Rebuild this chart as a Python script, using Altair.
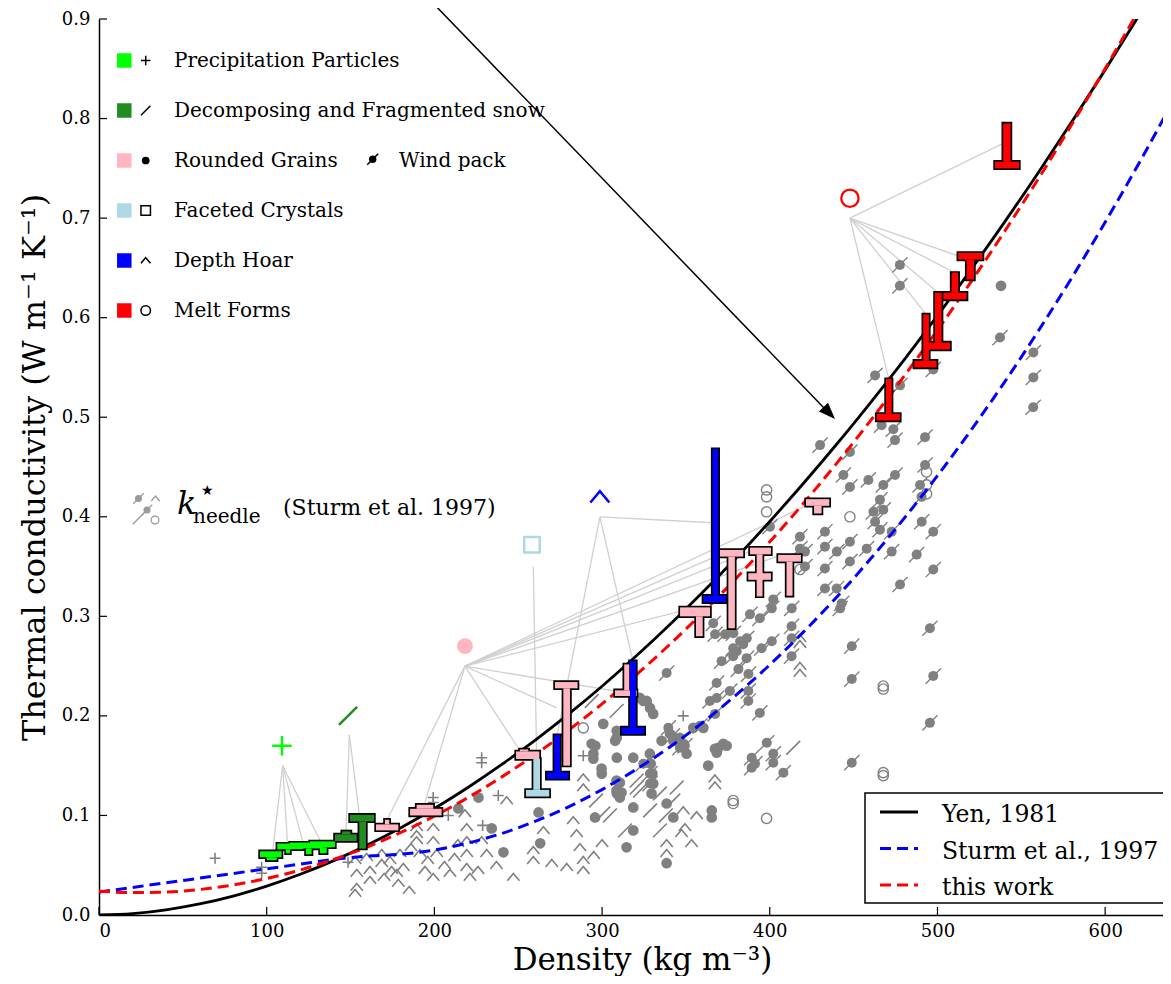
import altair as alt
import pandas as pd

# ---------------- curves (values every 20 kg m-3) ----------------
rho_grid = list(range(0, 660, 20))
yen_k = [0.0, 0.0014, 0.0052, 0.0111, 0.0190, 0.0290, 0.0409, 0.0546, 0.0703, 0.0877, 0.1070,
         0.1281, 0.1510, 0.1755, 0.2018, 0.2298, 0.2596, 0.2910, 0.3241, 0.3588, 0.3953, 0.4334,
         0.4731, 0.5145, 0.5574, 0.6020, 0.6483, 0.6960, 0.7454, 0.7964, 0.8489, 0.9031, 0.9587]
sturm_k = [0.0230, 0.0277, 0.0324, 0.0370, 0.0417, 0.0464, 0.0511, 0.0558, 0.0592, 0.0610, 0.0653,
           0.0723, 0.0818, 0.0940, 0.1087, 0.1260, 0.1459, 0.1683, 0.1934, 0.2211, 0.2513, 0.2841,
           0.3195, 0.3575, 0.3981, 0.4413, 0.4870, 0.5353, 0.5863, 0.6398, 0.6959, 0.7546, 0.8158]
this_work_k = [0.0240, 0.0225, 0.0231, 0.0256, 0.0302, 0.0367, 0.0452, 0.0558, 0.0683, 0.0829, 0.0994,
               0.1179, 0.1385, 0.1610, 0.1856, 0.2121, 0.2406, 0.2712, 0.3037, 0.3383, 0.3748, 0.4133,
               0.4539, 0.4964, 0.5410, 0.5875, 0.6360, 0.6866, 0.7391, 0.7937, 0.8502, 0.9087, 0.9693]
curve_labels = ["Yen, 1981", "Sturm et al., 1997", "this work"]

# ---------------- class glyphs: (rho_lo, rho_hi, k_lo, k_hi) ----------------
precip_rects = [(96.0, 108.9, 0.058, 0.064), (100.0, 106.0, 0.055, 0.058),
                (106.3, 121.8, 0.066, 0.0717), (111.5, 113.9, 0.062, 0.066),
                (113.9, 133.8, 0.0667, 0.0727), (123.4, 126.8, 0.061, 0.0667),
                (125.8, 140.7, 0.068, 0.074), (131.8, 135.8, 0.062, 0.068)]
decomp_rects = [(140.7, 153.7, 0.0743, 0.081), (145.0, 150.0, 0.081, 0.084),
                (149.7, 164.0, 0.094, 0.1007), (155.2, 159.2, 0.0667, 0.094)]
rounded_rects = [(165.2, 178.5, 0.085, 0.091), (170.5, 173.1, 0.091, 0.0957),
                 (185.5, 204.3, 0.100, 0.1067), (189.4, 199.3, 0.1067, 0.1107),
                 (248.7, 262.6, 0.1567, 0.1643), (251.0, 256.0, 0.1643, 0.1663),
                 (271.9, 285.4, 0.2277, 0.234), (276.9, 280.9, 0.150, 0.2277),
                 (307.7, 320.6, 0.220, 0.2257), (313.2, 316.2, 0.2257, 0.2517),
                 (346.5, 364.4, 0.300, 0.309), (356.0, 360.0, 0.280, 0.300),
                 (370.3, 384.2, 0.360, 0.3667), (375.3, 379.2, 0.288, 0.360),
                 (388.2, 400.7, 0.3623, 0.369), (387.2, 400.7, 0.3367, 0.3433), (392.2, 395.7, 0.320, 0.3623),
                 (405.0, 418.6, 0.355, 0.3617), (410.0, 413.6, 0.3207, 0.355),
                 (421.6, 435.5, 0.411, 0.4177), (426.4, 430.9, 0.4033, 0.411)]
faceted_rects = [(259.0, 263.0, 0.1257, 0.1567), (254.6, 268.5, 0.119, 0.1257)]
depth_rects = [(271.5, 274.9, 0.1433, 0.1807), (267.0, 279.9, 0.1367, 0.1433),
               (316.6, 320.2, 0.1883, 0.255), (311.7, 325.2, 0.1817, 0.1883),
               (365.9, 369.3, 0.3207, 0.468), (360.4, 373.9, 0.314, 0.3207)]
melt_rects = [(469.3, 472.7, 0.5033, 0.5383), (463.7, 477.6, 0.4967, 0.5033),
              (491.5, 494.9, 0.5567, 0.6033), (486.2, 499.5, 0.550, 0.5567),
              (498.5, 502.5, 0.575, 0.625), (494.5, 507.5, 0.568, 0.575),
              (508.4, 512.4, 0.625, 0.645), (503.5, 517.4, 0.6183, 0.625),
              (512.4, 526.9, 0.6583, 0.665), (517.4, 521.8, 0.6383, 0.6583),
              (539.2, 543.6, 0.7567, 0.795), (534.3, 548.6, 0.750, 0.7567)]

# class markers, hubs and the glyphs they point to
class_marker = {"precip": (109.1, 0.170), "decomp": (148.5, 0.200), "rounded": (218.2, 0.270),
                "faceted": (258.2, 0.372), "depth": (298.7, 0.420), "melt": (447.8, 0.720)}
class_hub = {"precip": (109.5, 0.150), "decomp": (149.3, 0.181), "rounded": (218.2, 0.250),
             "faceted": (259.0, 0.350), "depth": (298.7, 0.400), "melt": (447.8, 0.700)}
class_targets = {
    "precip": [(103.6, 0.0643), (112.4, 0.0717), (121.8, 0.0717), (131.8, 0.075)],
    "decomp": [(147.3, 0.0833), (155.2, 0.1017)],
    "rounded": [(171.8, 0.0957), (194.0, 0.1107), (251.0, 0.165), (273.0, 0.208), (307.7, 0.225),
                (346.5, 0.305), (370.3, 0.362), (388.2, 0.365), (404.1, 0.360), (424.0, 0.413)],
    "faceted": [(261.0, 0.1567)],
    "depth": [(273.2, 0.1807), (318.4, 0.255), (365.9, 0.394)],
    "melt": [(471.0, 0.5383), (493.2, 0.6033), (500.5, 0.625), (510.4, 0.645), (512.4, 0.662), (539.2, 0.775)],
}

# ---------------- k_needle points (Sturm et al. 1997) ----------------
plus_pts = [(69.2, 0.057), (97.0, 0.048), (97.0, 0.042), (148.5, 0.053), (199.3, 0.118), (199.3, 0.113),
            (208.3, 0.100), (228.2, 0.158), (228.2, 0.153), (228.8, 0.090), (238.1, 0.120), (288.8, 0.160),
            (348.4, 0.200)]
slash_pts = [(293.8, 0.215), (308.7, 0.205), (300.7, 0.102), (296.4, 0.115), (304.7, 0.100), (313.7, 0.085),
             (320.6, 0.135), (320.6, 0.128), (322.6, 0.125), (328.6, 0.105), (334.5, 0.122), (334.5, 0.085),
             (338.0, 0.100), (342.5, 0.115), (344.5, 0.128), (414.0, 0.168)]
caret_pts = [(152.7, 0.055), (153.7, 0.042), (152.7, 0.022), (153.7, 0.028), (159.6, 0.058), (161.6, 0.045),
             (161.6, 0.035), (168.6, 0.062), (168.6, 0.052), (173.5, 0.055), (174.5, 0.045), (177.5, 0.042),
             (179.5, 0.062), (181.5, 0.048), (178.5, 0.032), (189.4, 0.088), (189.4, 0.081), (189.4, 0.075),
             (191.4, 0.062), (194.4, 0.045), (199.3, 0.088), (199.3, 0.075), (201.4, 0.062), (199.3, 0.038),
             (209.3, 0.042), (218.2, 0.102), (219.3, 0.088), (219.3, 0.075), (219.3, 0.062), (219.3, 0.048),
             (221.2, 0.038), (228.2, 0.075), (231.2, 0.062), (243.1, 0.115), (247.1, 0.038), (259.0, 0.065),
             (259.0, 0.055), (278.9, 0.048), (282.8, 0.095), (284.8, 0.082), (286.8, 0.068), (288.8, 0.055),
             (288.8, 0.045), (288.8, 0.128), (288.8, 0.138), (338.5, 0.072), (338.5, 0.062), (347.4, 0.082),
             (348.4, 0.105), (349.4, 0.088), (353.4, 0.072), (356.4, 0.100), (367.3, 0.130), (367.3, 0.137),
             (418.0, 0.243), (418.0, 0.250), (418.0, 0.278), (418.0, 0.272), (186.0, 0.068), (196.0, 0.055),
             (206.0, 0.050), (212.0, 0.058), (214.0, 0.072), (170.0, 0.038), (185.0, 0.025), (226.0, 0.045),
             (237.0, 0.050), (270.0, 0.052), (295.0, 0.060), (300.0, 0.072), (265.0, 0.085)]
ring_pts = [(288.8, 0.188), (378.2, 0.112), (378.2, 0.115), (398.1, 0.097), (398.1, 0.405), (398.1, 0.420),
            (398.1, 0.427), (418.0, 0.347), (447.8, 0.400), (467.7, 0.230), (467.7, 0.227), (467.7, 0.143),
            (467.7, 0.140), (493.5, 0.423), (493.5, 0.432), (493.5, 0.445)]
dot_pts = [(214.3, 0.107), (226.3, 0.118), (234.2, 0.087), (241.2, 0.063), (262.1, 0.103), (263.1, 0.072),
           (293.8, 0.172), (294.8, 0.162), (294.8, 0.157), (295.8, 0.098), (296.0, 0.170), (299.7, 0.147),
           (299.8, 0.142), (300.7, 0.192), (307.8, 0.175), (308.7, 0.185), (308.7, 0.178), (308.8, 0.158),
           (308.8, 0.122), (308.6, 0.135), (308.6, 0.125), (310.6, 0.133), (311.6, 0.123), (310.6, 0.118),
           (314.6, 0.068), (318.6, 0.158), (318.6, 0.108), (318.6, 0.085), (322.6, 0.218), (324.6, 0.215),
           (326.6, 0.215), (328.6, 0.208), (330.5, 0.202), (328.5, 0.162), (329.0, 0.152), (330.0, 0.142),
           (330.5, 0.132), (329.5, 0.122), (335.5, 0.175), (338.5, 0.112), (338.5, 0.052), (340.5, 0.182),
           (342.5, 0.175), (342.5, 0.098), (346.4, 0.178), (348.4, 0.172), (350.4, 0.162), (354.4, 0.188),
           (360.4, 0.188), (363.3, 0.150), (365.4, 0.105), (365.4, 0.098), (367.3, 0.167), (368.4, 0.163),
           (369.3, 0.168), (372.3, 0.172), (374.3, 0.170), (537.9, 0.632)]
wind_pts = [(324.6, 0.152), (328.6, 0.142), (328.6, 0.132), (338.5, 0.243), (339.5, 0.188), (342.0, 0.180),
            (346.4, 0.168), (349.4, 0.170), (358.4, 0.190), (364.3, 0.215), (366.3, 0.293), (367.4, 0.282),
            (367.4, 0.202), (368.3, 0.233), (368.4, 0.218), (371.3, 0.255), (373.3, 0.282), (376.2, 0.225),
            (378.2, 0.268), (378.2, 0.260), (378.3, 0.283), (380.3, 0.265), (381.3, 0.247), (382.3, 0.275),
            (384.2, 0.272), (386.2, 0.258), (386.3, 0.278), (387.2, 0.225), (387.2, 0.215), (387.3, 0.242),
            (388.2, 0.302), (389.2, 0.158), (389.2, 0.148), (391.2, 0.152), (394.1, 0.298), (394.1, 0.203),
            (395.1, 0.268), (398.2, 0.173), (400.1, 0.390), (401.2, 0.308), (401.2, 0.275), (402.1, 0.317),
            (402.1, 0.162), (402.1, 0.153), (408.1, 0.143), (413.0, 0.290), (413.0, 0.260), (413.1, 0.308),
            (413.1, 0.278), (418.0, 0.380), (418.0, 0.368), (421.0, 0.365), (421.0, 0.350), (430.0, 0.472),
            (432.9, 0.385), (432.9, 0.370), (432.9, 0.348), (432.9, 0.328), (439.9, 0.328), (440.0, 0.365),
            (442.0, 0.308), (442.9, 0.313), (443.9, 0.442), (447.8, 0.465), (447.8, 0.430), (447.8, 0.375),
            (447.8, 0.355), (448.9, 0.270), (448.9, 0.237), (448.9, 0.153), (457.8, 0.368), (458.8, 0.437),
            (461.8, 0.405), (462.8, 0.542), (462.8, 0.395), (465.7, 0.417), (465.7, 0.387), (466.7, 0.492),
            (467.7, 0.432), (467.7, 0.407), (472.7, 0.385), (472.7, 0.365), (473.7, 0.488), (474.7, 0.477),
            (474.7, 0.442), (477.6, 0.653), (477.6, 0.632), (477.7, 0.532), (477.7, 0.332), (487.6, 0.362),
            (489.6, 0.432), (490.5, 0.420), (490.6, 0.395), (492.6, 0.480), (492.6, 0.452), (495.5, 0.288),
            (495.5, 0.193), (497.5, 0.548), (497.5, 0.385), (497.5, 0.347), (497.5, 0.240), (537.3, 0.580),
            (557.1, 0.510), (557.2, 0.565), (557.2, 0.540)]

class_labels = ["Precipitation Particles", "Decomposing and Fragmented snow", "Rounded Grains",
                "Faceted Crystals", "Depth Hoar", "Melt Forms"]
x_ticks = [0, 100, 200, 300, 400, 500, 600]
y_ticks = [0.0, 0.1, 0.2, 0.3, 0.4, 0.5, 0.6, 0.7, 0.8, 0.9]

# ---------------- styles ----------------
CLASSES = ["precip", "decomp", "rounded", "faceted", "depth", "melt"]
COLORS = {"precip": "#00ff00", "decomp": "#228b22", "rounded": "#ffb6c1",
          "faceted": "#add8e6", "depth": "#0000ff", "melt": "#ff0000"}
GREY = "#808080"
PLUS = "M-1,0L1,0M0,-1L0,1"
SLASH = "M-1,1L1,-1"
CARET = "M-1,0.6L0,-0.6L1,0.6"
ARROW = "M0,0L-0.38,-1L0.38,-1Z"
FONT = "DejaVu Serif"
TOP = 11         # top padding in px
H = 896          # plot height in px
DY = -4          # shift of pixel-placed annotations so they sit where the reference has them

XS = alt.Scale(domain=[0, 634.5], nice=False, zero=False)
YS = alt.Scale(domain=[0, 0.9], nice=False, zero=False)
XAX = alt.Axis(values=x_ticks, format="d", ticks=False, grid=False, labelPadding=7,
               title="Density (kg m⁻³)", titleX=543, titleY=54, titleBaseline="alphabetic")
YAX = alt.Axis(values=y_ticks, format=".1f", ticks=False, grid=False, labelPadding=9,
               title="Thermal conductivity (W m⁻¹ K⁻¹)", titleX=-55, titleBaseline="alphabetic",
               titleFontSize=32)


def X(f):
    return alt.X(f, type="quantitative", scale=XS, axis=XAX)


def Y(f):
    return alt.Y(f, type="quantitative", scale=YS, axis=YAX)


def pdf(pts):
    return pd.DataFrame(pts, columns=["rho", "k"])


def PX(f):
    return alt.X(f, type="quantitative", scale=None)


def PY(f):
    return alt.Y(f, type="quantitative", scale=None)


layers = []

# hub lines
hub_rows = []
for c in CLASSES:
    hx, hy = class_hub[c]
    for tx, ty in class_targets[c]:
        hub_rows.append({"hx": hx, "hy": hy, "tx": tx, "ty": ty})
layers.append(alt.Chart(pd.DataFrame(hub_rows)).mark_rule(color="#d0d0d0", strokeWidth=1.3).encode(
    x=X("hx"), y=Y("hy"), x2=alt.X2("tx"), y2=alt.Y2("ty")))

# grey k_needle points
layers.append(alt.Chart(pdf(caret_pts)).mark_point(shape=CARET, filled=False, color=GREY,
                                                   size=150, strokeWidth=1.6, opacity=1).encode(x=X("rho"), y=Y("k")))
layers.append(alt.Chart(pdf(plus_pts)).mark_point(shape=PLUS, filled=False, color=GREY,
                                                  size=120, strokeWidth=1.6, opacity=1).encode(x=X("rho"), y=Y("k")))
layers.append(alt.Chart(pdf(slash_pts)).mark_point(shape=SLASH, filled=False, color=GREY,
                                                   size=190, strokeWidth=1.6, opacity=1).encode(x=X("rho"), y=Y("k")))
layers.append(alt.Chart(pdf(ring_pts)).mark_point(shape="circle", filled=False, color=GREY,
                                                  size=105, strokeWidth=1.4, opacity=1).encode(x=X("rho"), y=Y("k")))
layers.append(alt.Chart(pdf(dot_pts)).mark_circle(color=GREY, size=115, opacity=1).encode(x=X("rho"), y=Y("k")))
layers.append(alt.Chart(pdf(wind_pts)).mark_point(shape=SLASH, filled=False, color=GREY,
                                                  size=230, strokeWidth=1.4, opacity=1).encode(x=X("rho"), y=Y("k")))
layers.append(alt.Chart(pdf(wind_pts)).mark_circle(color=GREY, size=100, opacity=1).encode(x=X("rho"), y=Y("k")))

# curves
cdf = pd.DataFrame({"rho": rho_grid, "yen": yen_k, "sturm": sturm_k, "tw": this_work_k})
layers.append(alt.Chart(cdf).mark_line(color="black", strokeWidth=2.8, clip=True, interpolate="monotone").encode(
    x=X("rho"), y=Y("yen")))
layers.append(alt.Chart(cdf).mark_line(color="#0000ff", strokeWidth=3, strokeDash=[11, 6], clip=True,
                                       interpolate="monotone").encode(x=X("rho"), y=Y("sturm")))
layers.append(alt.Chart(cdf).mark_line(color="#ff0000", strokeWidth=3, strokeDash=[11, 6], clip=True,
                                       interpolate="monotone").encode(x=X("rho"), y=Y("tw")))

# class glyphs: outline pass then fill pass
rect_rows = []
for c, rects in zip(CLASSES, [precip_rects, decomp_rects, rounded_rects, faceted_rects, depth_rects, melt_rects]):
    for lo, hi, klo, khi in rects:
        rect_rows.append({"lo": lo, "hi": hi, "klo": klo, "khi": khi, "color": COLORS[c]})
rdf = pd.DataFrame(rect_rows)
layers.append(alt.Chart(rdf).mark_rect(stroke="black", strokeWidth=3.4, opacity=1).encode(
    x=X("lo"), x2=alt.X2("hi"), y=Y("klo"), y2=alt.Y2("khi"), fill=alt.Fill("color:N", scale=None)))
layers.append(alt.Chart(rdf).mark_rect(strokeWidth=0, opacity=1).encode(
    x=X("lo"), x2=alt.X2("hi"), y=Y("klo"), y2=alt.Y2("khi"), fill=alt.Fill("color:N", scale=None)))


# class markers
def one(c):
    return pd.DataFrame([{"rho": class_marker[c][0], "k": class_marker[c][1]}])


layers.append(alt.Chart(one("precip")).mark_point(shape=PLUS, filled=False, color=COLORS["precip"], size=380,
                                                  strokeWidth=2.5, opacity=1).encode(x=X("rho"), y=Y("k")))
layers.append(alt.Chart(one("decomp")).mark_point(shape=SLASH, filled=False, color=COLORS["decomp"], size=330,
                                                  strokeWidth=2.5, opacity=1).encode(x=X("rho"), y=Y("k")))
layers.append(alt.Chart(one("rounded")).mark_circle(color=COLORS["rounded"], size=250, opacity=1).encode(
    x=X("rho"), y=Y("k")))
layers.append(alt.Chart(one("faceted")).mark_point(shape="square", filled=False, color=COLORS["faceted"], size=240,
                                                   strokeWidth=2.5, opacity=1).encode(x=X("rho"), y=Y("k")))
layers.append(alt.Chart(one("depth")).mark_point(shape=CARET, filled=False, color=COLORS["depth"], size=360,
                                                 strokeWidth=2.5, opacity=1).encode(x=X("rho"), y=Y("k")))
layers.append(alt.Chart(one("melt")).mark_point(shape="circle", filled=False, color=COLORS["melt"], size=300,
                                                strokeWidth=2.3, opacity=1).encode(x=X("rho"), y=Y("k")))

# inward ticks
layers.append(alt.Chart(pd.DataFrame({"v": x_ticks})).mark_rule(color="black", strokeWidth=1.2).encode(
    x=X("v"), y=alt.value(H), y2=alt.value(H - 8)))
layers.append(alt.Chart(pd.DataFrame({"v": y_ticks})).mark_rule(color="black", strokeWidth=1.2).encode(
    y=Y("v"), x=alt.value(0), x2=alt.value(8)))

# top-left class legend (pixel layout)
leg = pd.DataFrame({"label": class_labels, "color": [COLORS[c] for c in CLASSES],
                    "shape": [PLUS, SLASH, "circle", "square", CARET, "circle"],
                    "filled": [False, False, True, False, False, False]})
leg["py"] = [45.5 + DY + 50 * i for i in range(len(leg))]
leg["ty"] = [52.0 + DY + 50 * i for i in range(len(leg))]
layers.append(alt.Chart(leg).mark_square(size=210, opacity=1).encode(
    x=alt.value(25.3), y=PY("py"), color=alt.Color("color:N", scale=None)))
layers.append(alt.Chart(leg[~leg["filled"]]).mark_point(filled=False, color="black", size=90, strokeWidth=1.5,
                                                        opacity=1).encode(
    x=alt.value(46.7), y=PY("py"), shape=alt.Shape("shape:N", scale=None)))
layers.append(alt.Chart(leg[leg["filled"]]).mark_circle(color="black", size=60, opacity=1).encode(
    x=alt.value(46.7), y=PY("py")))
layers.append(alt.Chart(leg).mark_text(font=FONT, fontSize=20, align="left", baseline="alphabetic",
                                       color="black").encode(x=alt.value(75), y=PY("ty"), text="label:N"))
wp = pd.DataFrame({"label": ["Wind pack"], "py": [144.3 + DY], "ty": [152.0 + DY]})
layers.append(alt.Chart(wp).mark_point(shape=SLASH, filled=False, color="black", size=120, strokeWidth=1.5,
                                       opacity=1).encode(x=alt.value(273.7), y=PY("py")))
layers.append(alt.Chart(wp).mark_circle(color="black", size=55, opacity=1).encode(x=alt.value(273.7), y=PY("py")))
layers.append(alt.Chart(wp).mark_text(font=FONT, fontSize=20, align="left", baseline="alphabetic",
                                      color="black").encode(x=alt.value(300), y=PY("ty"), text="label:N"))

# k_needle annotation
icon = pd.DataFrame({"px": [39.5, 48.0], "py": [483.5 + DY, 495.0 + DY]})
layers.append(alt.Chart(icon).mark_point(shape=SLASH, filled=False, color="#9a9a9a", size=110, strokeWidth=1.3,
                                         opacity=1).encode(x=PX("px"), y=PY("py")))
layers.append(alt.Chart(icon).mark_circle(color="#9a9a9a", size=50, opacity=1).encode(x=PX("px"), y=PY("py")))
layers.append(alt.Chart(pd.DataFrame({"px": [56.5], "py": [483.5 + DY]})).mark_point(
    shape=CARET, filled=False, color="#9a9a9a", size=70, strokeWidth=1.3, opacity=1).encode(x=PX("px"), y=PY("py")))
layers.append(alt.Chart(pd.DataFrame({"px": [39.5], "py": [503.5 + DY]})).mark_point(
    shape=SLASH, filled=False, color="#9a9a9a", size=130, strokeWidth=1.4, opacity=1).encode(x=PX("px"), y=PY("py")))
layers.append(alt.Chart(pd.DataFrame({"px": [56.0], "py": [505.0 + DY]})).mark_point(
    shape="circle", filled=False, color="#9a9a9a", size=60, strokeWidth=1.3, opacity=1).encode(x=PX("px"), y=PY("py")))
kn = pd.DataFrame({"t": ["k", "★", "needle", "(Sturm et al. 1997)"],
                   "px": [78, 102, 94, 184], "py": [499 + DY, 480 + DY, 508 + DY, 500 + DY]})
layers.append(alt.Chart(kn.iloc[[0]]).mark_text(font=FONT, fontSize=32, fontStyle="italic", align="left",
                                                baseline="alphabetic", color="black").encode(
    x=PX("px"), y=PY("py"), text="t:N"))
layers.append(alt.Chart(kn.iloc[[1]]).mark_text(font="DejaVu Sans", fontSize=14, align="left",
                                                baseline="alphabetic", color="black").encode(
    x=PX("px"), y=PY("py"), text="t:N"))
layers.append(alt.Chart(kn.iloc[[2]]).mark_text(font=FONT, fontSize=20, align="left",
                                                baseline="alphabetic", color="black").encode(
    x=PX("px"), y=PY("py"), text="t:N"))
layers.append(alt.Chart(kn.iloc[[3]]).mark_text(font=FONT, fontSize=22, align="left",
                                                baseline="alphabetic", color="black").encode(
    x=PX("px"), y=PY("py"), text="t:N"))

# curve legend (bottom right)
box = pd.DataFrame({"x1": [766], "x2": [1090], "y1": [778 + DY], "y2": [888 + DY]})
layers.append(alt.Chart(box).mark_rect(fill="white", stroke="black", strokeWidth=1.5, opacity=1).encode(
    x=PX("x1"), x2=alt.X2("x2"), y=PY("y1"), y2=alt.Y2("y2")))
cl = pd.DataFrame({"label": curve_labels})
cl["ly"] = [797 + DY + 36.5 * i for i in range(3)]
cl["ty"] = [807 + DY + 36.5 * i for i in range(3)]
layers.append(alt.Chart(cl.iloc[[0]]).mark_rule(color="black", strokeWidth=2.8).encode(
    x=alt.value(781), x2=alt.value(819), y=PY("ly")))
layers.append(alt.Chart(cl.iloc[[1]]).mark_rule(color="#0000ff", strokeWidth=3, strokeDash=[11, 6]).encode(
    x=alt.value(781), x2=alt.value(819), y=PY("ly")))
layers.append(alt.Chart(cl.iloc[[2]]).mark_rule(color="#ff0000", strokeWidth=3, strokeDash=[11, 6]).encode(
    x=alt.value(781), x2=alt.value(819), y=PY("ly")))
layers.append(alt.Chart(cl).mark_text(font=FONT, fontSize=23.5, align="left", baseline="alphabetic",
                                      color="black").encode(x=alt.value(843), y=PY("ty"), text="label:N"))

# arrow annotation
arr = pd.DataFrame({"x1": [331], "y1": [-19], "x2": [726], "y2": [390]})
layers.append(alt.Chart(arr).mark_rule(color="black", strokeWidth=1.5).encode(
    x=PX("x1"), y=PY("y1"), x2=alt.X2("x2"), y2=alt.Y2("y2")))
layers.append(alt.Chart(pd.DataFrame({"px": [736], "py": [400]})).mark_point(
    shape=ARROW, filled=True, color="black", size=1100, angle=316, opacity=1).encode(x=PX("px"), y=PY("py")))

chart = alt.layer(*layers).properties(
    width=1064, height=H,
    autosize=alt.AutoSizeParams(type="none"),
    padding={"left": 91, "top": TOP, "right": 0, "bottom": 61},
    background="white",
).configure_view(stroke=None).configure_axis(
    domainColor="black", domainWidth=1.5,
    labelFont=FONT, labelFontSize=18, labelColor="black",
    titleFont=FONT, titleFontSize=31, titleFontWeight="normal", titleColor="black",
)

chart.save("out.html", embed_options={"renderer": "svg", "actions": False})
